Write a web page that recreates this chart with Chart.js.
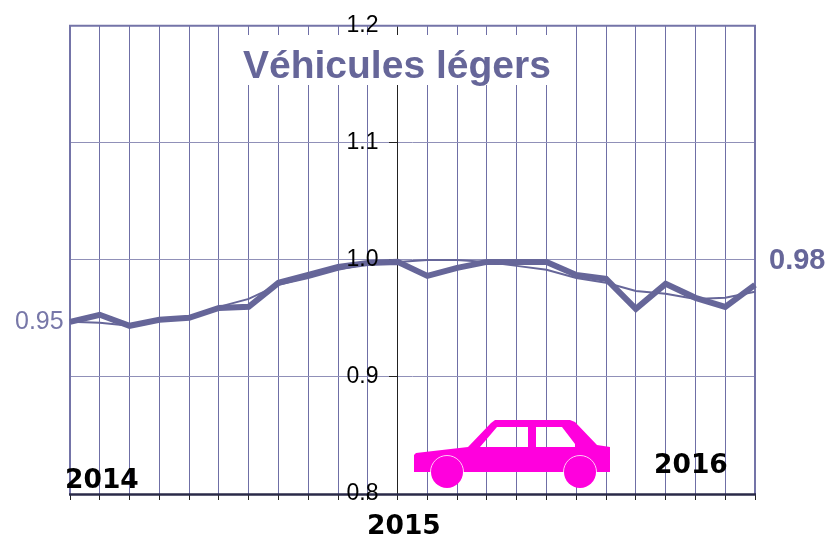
<!DOCTYPE html>
<html>
<head>
<meta charset="utf-8">
<script src="https://cdn.jsdelivr.net/npm/chart.js@4"></script>
<style>
html,body{margin:0;padding:0;background:#fff;overflow:hidden}
#wrap{position:relative;width:828px;height:534px}
canvas{display:block}
</style>
</head>
<body>
<div id="wrap"><canvas id="c" width="828" height="534"></canvas></div>
<script>
const categories = ['jan14','fév14','mar14','avr14','mai14','jun14','jul14','aoû14','sep14','oct14','nov14','déc14',
                    'jan15','fév15','mar15','avr15','mai15','jun15','jul15','aoû15','sep15','oct15','nov15','déc15'];
const monthly = [0.9471,0.9531,0.9437,0.9488,0.9505,0.9590,0.9599,0.9804,0.9872,0.9940,0.9974,0.9983,
                 0.9863,0.9932,0.9983,0.9983,0.9983,0.9872,0.9838,0.9582,0.9795,0.9676,0.9599,0.9787];
const smoothed = [0.9471,0.9462,0.9437,0.9488,0.9505,0.9599,0.9667,0.9787,0.9846,0.9915,0.9966,0.9983,
                  1.0000,1.0000,0.9983,0.9949,0.9915,0.9846,0.9804,0.9735,0.9710,0.9667,0.9676,0.9727];
const yTicks = [0.8,0.9,1.0,1.1,1.2];
const titleText = 'Véhicules légers';
const yearLabels = ['2014','2015','2016'];
const firstValueLabel = '0.95';
const lastValueLabel = '0.98';

const INK = '#666699';

const decor = {
  id:'decor',
  beforeDatasetsDraw(chart){
    const ctx = chart.ctx, a = chart.chartArea;
    ctx.save();
    // white band behind the title interrupts the grid
    ctx.fillStyle = '#fff';
    ctx.fillRect(235,35,326,50);
    // plot frame
    ctx.strokeStyle = '#7474a8';
    ctx.lineWidth = 2;
    ctx.beginPath();
    ctx.moveTo(a.left,a.bottom); ctx.lineTo(a.left,a.top); ctx.lineTo(a.right,a.top); ctx.lineTo(a.right,a.bottom);
    ctx.stroke();
    ctx.strokeStyle = '#2a2a48';
    ctx.lineWidth = 2.5;
    ctx.beginPath(); ctx.moveTo(a.left-1,a.bottom+0.5); ctx.lineTo(a.right+1,a.bottom+0.5); ctx.stroke();
    ctx.restore();
  },
  afterDatasetsDraw(chart){
    const ctx = chart.ctx;
    ctx.save();
    // title
    ctx.fillStyle = INK;
    ctx.textBaseline = 'alphabetic';
    ctx.textAlign = 'left';
    ctx.font = 'bold 39px "Liberation Sans"';
    ctx.fillText(titleText,243,78);
    // value labels
    ctx.font = '25px "Liberation Sans"';
    ctx.fillStyle = '#7777a8';
    ctx.fillText(firstValueLabel,15,329);
    ctx.fillStyle = INK;
    ctx.font = 'bold 29px "Liberation Sans"';
    ctx.fillText(lastValueLabel,769,269);
    // years
    ctx.fillStyle = '#000';
    ctx.font = 'bold 26.5px "DejaVu Sans"';
    ctx.fillText(yearLabels[0],65,488);
    ctx.fillText(yearLabels[1],367,534);
    ctx.fillText(yearLabels[2],654,473);
    // car
    ctx.fillStyle = '#ff00dd';
    const p = new Path2D();
    p.moveTo(416,453); p.lineTo(468,447); p.lineTo(491,423); p.lineTo(495,420); p.lineTo(570,420);
    p.lineTo(575,422); p.lineTo(597,445); p.lineTo(610,447); p.lineTo(610,472); p.lineTo(414,472); p.lineTo(414,455); p.closePath();
    p.moveTo(480,447); p.lineTo(497,427); p.lineTo(528,427); p.lineTo(528,447); p.closePath();
    p.moveTo(536,447); p.lineTo(536,427); p.lineTo(562,427); p.lineTo(575,444); p.lineTo(575,447); p.closePath();
    ctx.fill(p,'evenodd');
    [447,580].forEach(cx=>{
      ctx.beginPath(); ctx.arc(cx,472,16,0,Math.PI*2); ctx.fillStyle='#ff00dd'; ctx.fill();
      ctx.beginPath(); ctx.arc(cx,472,16.5,Math.PI,Math.PI*2); ctx.strokeStyle='#ffc8f6'; ctx.lineWidth=1; ctx.stroke();
    });
    ctx.restore();
  }
};

new Chart(document.getElementById('c'),{
  type:'line',
  data:{labels:categories,datasets:[
    {label:'Moyenne',data:smoothed,borderColor:INK,borderWidth:2,pointRadius:0,tension:0,fill:false,clip:false},
    {label:'Mensuel',data:monthly,borderColor:INK,borderWidth:6,pointRadius:0,tension:0,fill:false,clip:false,borderJoinStyle:'miter'}
  ]},
  plugins:[decor],
  options:{
    responsive:false,animation:false,
    layout:{padding:{left:70,right:73,top:25,bottom:34}},
    plugins:{legend:{display:false},title:{display:false},tooltip:{enabled:false}},
    scales:{
      x:{
        type:'category',offset:false,
        grid:{display:true,color:'#6f6fa6',lineWidth:1,drawTicks:true,tickLength:6,tickColor:'#222',offset:false},
        border:{display:false},
        ticks:{display:true,autoSkip:false,maxRotation:0,padding:0,callback:()=>''},
        afterFit(s){s.height=6;}
      },
      y:{
        type:'linear',position:{x:11},min:0.8,max:1.2,
        afterBuildTicks(s){s.ticks=yTicks.map(v=>({value:v}));},
        grid:{display:true,color:'#9090b8',lineWidth:1,drawTicks:true,tickLength:8,tickColor:'#222'},
        border:{display:true,color:'#222',width:1},
        ticks:{color:'#000',padding:12,z:1,font:{family:'"Liberation Sans"',size:23},callback:v=>v.toFixed(1)+'   '}
      }
    }
  }
});
</script>
</body>
</html>
